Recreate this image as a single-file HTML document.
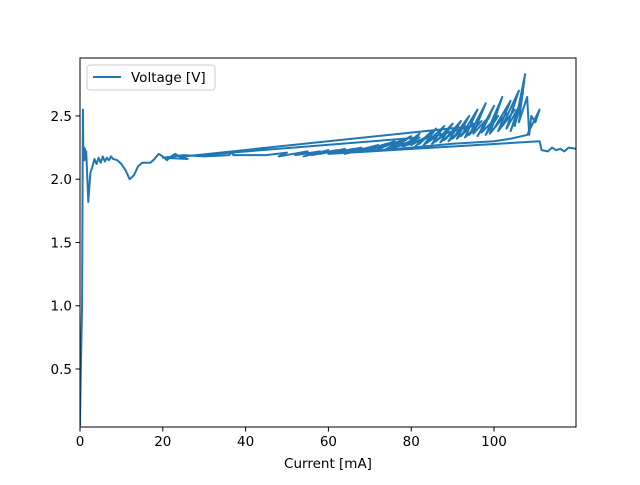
<!DOCTYPE html>
<html><head><meta charset="utf-8"><style>
body{margin:0;background:#fff;font-family:"Liberation Sans","DejaVu Sans",sans-serif}
svg text{font-family:"DejaVu Sans","Liberation Sans",sans-serif;font-size:13.5px;fill:#000}
</style></head><body>
<svg id="chart" width="640" height="480">
<rect x="0" y="0" width="640" height="480" fill="#fff"/>
<g id="plot"></g>
<g id="axes"></g>
</svg>
<script>
const xTicks=[0,20,40,60,80,100];
const yTicks=[0.5,1.0,1.5,2.0,2.5];
const yTickLabels=["0.5","1.0","1.5","2.0","2.5"];
const current=[0,0.2,0.5,0.7,0.8,1.0,1.1,1.2,1.3,1.5,2.0,2.5,3,3.5,4,4.5,5,5.5,6,6.5,7,7.5,8,9,10,11,12,13,14,15,17,18,19,20,21,22,23,24,25,26,20,25,30,36,37,37,45,50,48,55,52,58,54,60,56,62,58,64,60,66,62,68,64,70,66,72,68,74,70,76,72,78,74,80,76,82,25,95,75,80,78,82,80,84,81,85,82,86,83,87,84,88,85,89,86,90,87,91,88,92,89,93,90,94,91,95,92,96,93,97,94,98,95,99,96,100,97,101,98,102,99,103,100,104,101,105,102,106,103,106.5,104,107,105,107.5,106,108,108.5,109,110,111,108,104,100,90,80,60,111,111.5,113,114,115,116,117,118,120];
const voltage=[0.05,0.5,1.0,2.55,2.2,2.25,2.15,2.24,2.18,2.22,1.82,2.05,2.1,2.16,2.12,2.17,2.13,2.18,2.14,2.17,2.15,2.18,2.16,2.15,2.12,2.07,2.0,2.03,2.1,2.13,2.13,2.16,2.2,2.18,2.15,2.18,2.2,2.18,2.17,2.16,2.17,2.19,2.18,2.19,2.22,2.19,2.19,2.21,2.18,2.22,2.19,2.22,2.18,2.23,2.19,2.23,2.2,2.24,2.2,2.24,2.21,2.25,2.2,2.25,2.22,2.27,2.22,2.28,2.23,2.3,2.24,2.31,2.24,2.34,2.25,2.33,2.18,2.42,2.25,2.28,2.26,2.36,2.27,2.34,2.26,2.38,2.28,2.4,2.27,2.36,2.3,2.42,2.28,2.38,2.3,2.44,2.29,2.4,2.31,2.46,2.3,2.42,2.32,2.5,2.32,2.44,2.34,2.55,2.33,2.46,2.35,2.6,2.36,2.5,2.34,2.58,2.37,2.5,2.35,2.65,2.36,2.52,2.4,2.62,2.38,2.55,2.42,2.7,2.4,2.6,2.38,2.68,2.42,2.83,2.45,2.65,2.35,2.5,2.45,2.55,2.35,2.32,2.3,2.28,2.25,2.2,2.3,2.23,2.22,2.25,2.23,2.24,2.22,2.25,2.24,2.23];
const L=80,R=576,T=58,B=427,xMin=0,xMax=119.8,yMin=0.0415,yMax=2.958;
const xs=v=>L+(v-xMin)/(xMax-xMin)*(R-L);
const ys=v=>B-(v-yMin)/(yMax-yMin)*(B-T);
const NS="http://www.w3.org/2000/svg";
const plot=document.getElementById('plot'),axes=document.getElementById('axes');
function mk(t,a,p){const e=document.createElementNS(NS,t);for(const k in a)e.setAttribute(k,a[k]);p.appendChild(e);return e;}
const cp=mk('clipPath',{id:'cp'},plot);mk('rect',{x:L,y:T,width:R-L,height:B-T},cp);
const line=mk('polyline',{points:current.map((c,i)=>xs(c)+','+ys(voltage[i])).join(' '),fill:'none',stroke:'#1f77b4','stroke-width':2,'stroke-linejoin':'round','clip-path':'url(#cp)'},plot);


const frame=mk('rect',{x:L,y:T,width:R-L,height:B-T,fill:'none',stroke:'#000','stroke-width':1},axes);


xTicks.forEach(t=>{const x=xs(t);mk('line',{x1:x,x2:x,y1:B,y2:B+4.5,stroke:'#000','stroke-width':1},axes);
const tx=mk('text',{x:x,y:B+19,'text-anchor':'middle'},axes);tx.textContent=t;

});
yTicks.forEach((t,i)=>{const y=ys(t);mk('line',{x1:L-4.5,x2:L,y1:y,y2:y,stroke:'#000','stroke-width':1},axes);
const tx=mk('text',{x:L-8,y:y+5,'text-anchor':'end'},axes);tx.textContent=yTickLabels[i];

});
const xt=mk('text',{x:(L+R)/2,y:468,'text-anchor':'middle'},axes);xt.textContent='Current [mA]';


const lg=mk('g',{},axes);


mk('rect',{x:87,y:65,width:128,height:25,rx:3,fill:'#fff',stroke:'#ccc','stroke-width':1,'fill-opacity':0.8},lg);
mk('line',{x1:93,x2:121,y1:77,y2:77,stroke:'#1f77b4','stroke-width':2},lg);
const lt=mk('text',{x:131,y:82},lg);lt.textContent='Voltage [V]';


</script>
</body></html>
